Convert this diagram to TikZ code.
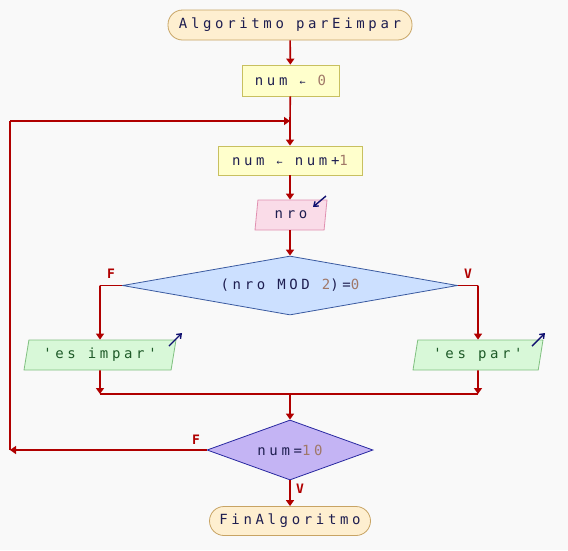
\documentclass[tikz,border=0pt]{standalone}
\usepackage{fontspec}
\usetikzlibrary{shapes.geometric,shapes.misc,arrows.meta}
\newfontfamily\codefont{DejaVu Sans Mono}[LetterSpace=26]
\newfontfamily\lblfont{DejaVu Sans Mono}[LetterSpace=0]
\definecolor{bgc}{HTML}{F9F9F9}
\definecolor{txt}{HTML}{1E1E50}
\definecolor{numc}{HTML}{A07868}
\definecolor{strc}{HTML}{1E5A28}
\definecolor{arr}{HTML}{B00000}
\definecolor{icon}{HTML}{101070}
\definecolor{termF}{HTML}{FEEFD0}
\definecolor{termD}{HTML}{C8A464}
\definecolor{asgF}{HTML}{FFFFCC}
\definecolor{asgD}{HTML}{C8C060}
\definecolor{inF}{HTML}{FADCE8}
\definecolor{inD}{HTML}{E090B0}
\definecolor{outF}{HTML}{D8F8D8}
\definecolor{outD}{HTML}{80C080}
\definecolor{d1F}{HTML}{CCE0FF}
\definecolor{d1D}{HTML}{3A5AA0}
\definecolor{d2F}{HTML}{C4B4F4}
\definecolor{d2D}{HTML}{2828A0}
\tikzset{
  every node/.style={font=\codefont\fontsize{14}{15}\selectfont, text=txt, inner sep=0pt},
  term/.style={rectangle, rounded corners=14.5pt, draw=termD, fill=termF, line width=0.8pt},
  asg/.style={rectangle, draw=asgD, fill=asgF, line width=0.8pt},
  para/.style={trapezium, trapezium left angle=70, trapezium right angle=110, trapezium stretches body, line width=0.8pt},
  inbox/.style={para, draw=inD, fill=inF},
  outbox/.style={para, draw=outD, fill=outF},
  cond1/.style={diamond, aspect=5.68, draw=d1D, fill=d1F, line width=0.8pt},
  cond2/.style={diamond, aspect=2.77, draw=d2D, fill=d2F, line width=0.8pt},
  flow/.style={draw=arr, line width=1.6pt},
  flowa/.style={flow, -{Triangle[width=8pt,length=6pt]}},
  ic/.style={draw=icon, line width=1.4pt, -{Straight Barb[width=6pt,length=4pt]}},
  lbl/.style={font=\lblfont\bfseries\fontsize{13}{14}\selectfont, text=arr}
}
\newcommand{\nm}[1]{\textcolor{numc}{#1}}
\newcommand{\sq}[1]{\textcolor{strc}{#1}}
\begin{document}
\begin{tikzpicture}[x=1pt,y=-1pt]
\fill[bgc] (0,0) rectangle (568,550);
\useasboundingbox (0,0) rectangle (568,550);

\node[term, minimum width=244, minimum height=30] (start) at (290,25) {Algoritmo parEimpar};
\node[asg, minimum width=97, minimum height=31] (a0) at (290.5,80.5) {num {\fontsize{10}{10}\selectfont←} \nm{0}};
\node[asg, minimum width=144, minimum height=29] (a1) at (290,160.5) {num {\fontsize{10}{10}\selectfont←} num+\nm{1}};
\node[inbox, minimum width=72, minimum height=30] (rd) at (291,215) {nro};
\node[cond1, minimum width=335, minimum height=59] (d1) at (290,285.5) {(nro MOD \nm{2})=\nm{0}};
\node[outbox, minimum width=152, minimum height=30] (oi) at (100,355) {\sq{'es impar'}};
\node[outbox, minimum width=130, minimum height=30] (op) at (478,355) {\sq{'es par'}};
\node[cond2, minimum width=166, minimum height=60] (d2) at (290,450) {num=\nm{10}};
\node[term, minimum width=161, minimum height=29] (fin) at (290,521) {FinAlgoritmo};

\coordinate (loopR) at (290,121);
\coordinate (loopL) at (10,121);
\coordinate (loopB) at (10,450);
\coordinate (bL) at (100,285.5);
\coordinate (bR) at (478,285.5);
\coordinate (mL) at (100,394);
\coordinate (mR) at (478,394);
\coordinate (mC) at (290,394);

\draw[flowa] (start) -- (a0);
\draw[flow] (a0) -- (loopR);
\draw[flowa] (loopR) -- (a1);
\draw[flowa] (a1) -- (rd.north -| a1);
\draw[flowa] (rd.south -| d1) -- (d1.north);
\draw[flow] (d1.west) -- (bL);
\draw[flowa] (bL) -- (oi.north);
\draw[flow] (d1.east) -- (bR);
\draw[flowa] (bR) -- (op.north);
\draw[flowa] (oi.south) -- (mL);
\draw[flowa] (op.south) -- (mR);
\draw[flow] (mL) -- (mR);
\draw[flowa] (mC) -- (d2.north);
\draw[flowa] (d2.west) -- (loopB);
\draw[flow] (loopB) -- (loopL);
\draw[flowa] (loopL) -- (loopR);
\draw[flowa] (d2.south) -- (fin.north);

\node[lbl] (fL) at (111,274) {F};
\node[lbl] (vR) at (468,274) {V};
\node[lbl] (fL2) at (196,440) {F};
\node[lbl] (vB) at (300,489) {V};

\coordinate (i1a) at (326,196);
\coordinate (i1b) at (313,207);
\coordinate (i2a) at (169,346);
\coordinate (i2b) at (182,333);
\coordinate (i3a) at (532,346);
\coordinate (i3b) at (545,333);
\draw[ic] (i1a) -- (i1b);
\draw[ic] (i2a) -- (i2b);
\draw[ic] (i3a) -- (i3b);
\end{tikzpicture}
\end{document}
